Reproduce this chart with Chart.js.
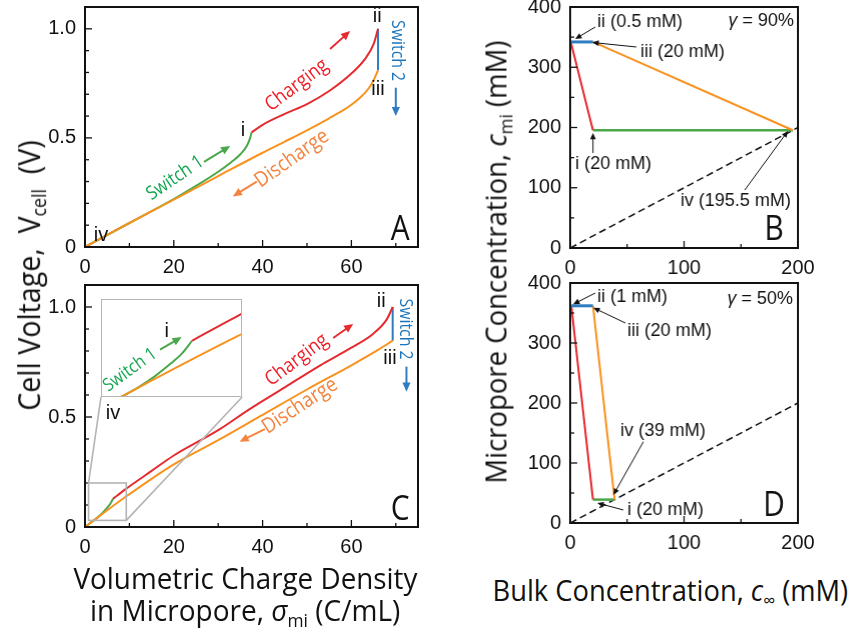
<!DOCTYPE html>
<html>
<head>
<meta charset="utf-8">
<script src="https://cdn.jsdelivr.net/npm/chart.js@4/dist/chart.umd.min.js"></script>
<style>
  body { margin: 0; background: #fff; }
  #wrap { position: relative; width: 850px; height: 634px; overflow: hidden; font-family: 'Open Sans', sans-serif; }
  canvas { position: absolute; }
  .t { position: absolute; white-space: nowrap; color: #111; font-size: 30px; line-height: 1; }
  .t sub { font-size: 0.62em; vertical-align: -0.3em; }
  .t i { font-style: italic; }
</style>
</head>
<body>
<div id="wrap">
  <canvas id="cA" width="410" height="280"></canvas>
  <canvas id="cC" width="410" height="282"></canvas>
  <canvas id="cB" width="300" height="281"></canvas>
  <canvas id="cD" width="300" height="280"></canvas>
  <canvas id="cIn" width="10" height="10"></canvas>

  <div class="t" data-x="30" data-y="275" data-len="270" data-rot="1" style="font-size:31px">Cell Voltage,&nbsp;&nbsp;V<sub>cell</sub>&nbsp;&nbsp;(V)</div>
  <div class="t" data-x="497" data-y="262" data-len="443" data-rot="1">Micropore Concentration, <i>c</i><sub>mi</sub> (mM)</div>
  <div class="t" data-x="245" data-y="578" data-len="344">Volumetric Charge Density</div>
  <div class="t" data-x="245" data-y="612" data-len="310">in Micropore, <i>σ</i><sub>mi</sub> (C/mL)</div>
  <div class="t" data-x="670" data-y="592" data-len="356">Bulk Concentration, <i>c</i><sub>∞</sub> (mM)</div>
</div>

<script>
// ---- data: panel A (gamma 90%), cell voltage vs charge density ----
const switch1A = [[0,0],[10,0.11],[20,0.22],[25,0.28],[30,0.345],[33,0.39],[35,0.425],[36.5,0.465],[37.2,0.5],[37.5,0.525]];
const chargeA = [[37.5,0.525],[40,0.56],[45,0.61],[50,0.655],[55,0.715],[60,0.795],[63,0.86],[65,0.93],[66,1.0]];
const switch2A = [[66,1.0],[66,0.81]];
const dischargeA = [[0,0],[10,0.11],[20,0.217],[30,0.325],[40,0.432],[45,0.483],[50,0.535],[55,0.59],[58,0.625],[60,0.652],[62,0.685],[64,0.73],[65,0.765],[66,0.81]];

// ---- panel C (gamma 50%) ----
const switch1C = [[0,0],[2,0.03],[3,0.046],[4,0.065],[5,0.088],[5.7,0.106],[6.3,0.128]];
const chargeC = [[6.3,0.128],[9,0.17],[15,0.255],[20,0.325],[30,0.44],[37,0.535],[45,0.635],[53,0.735],[60,0.815],[65,0.88],[68,0.945],[69.3,1.0]];
const switch2C = [[69.3,1.0],[69.3,0.847]];
const dischargeC = [[0,0],[9,0.135],[20,0.285],[30,0.395],[40,0.51],[50,0.625],[60,0.735],[66,0.805],[69.3,0.847]];

// ---- panel B: micropore vs bulk concentration (gamma 90%) ----
const chargeB = [[0.5,342],[20,195.5]];
const switch1B = [[20,195.5],[195.5,195.5]];
const switch2B = [[0.5,342],[20,342]];
const dischargeB = [[20,342],[195.5,195.5]];

// ---- panel D (gamma 50%) ----
const chargeD = [[1,362],[20,39]];
const switch1D = [[20,39],[39,39]];
const switch2D = [[1,362],[20,362]];
const dischargeD = [[20,362],[39,39]];

const equalLine = [[0,0],[200,200]];

// ---- ticks ----
const voltTicks = [0, 0.5, 1.0];
const chargeTicks = [0, 20, 40, 60];
const concTicks = [0, 100, 200, 300, 400];
const bulkTicks = [0, 100, 200];

// zoomed window shown in the inset of panel C, and where the inset sits
const zoomWin = { x0: 0.8, x1: 9.3, y0: 0.03, y1: 0.2 };
const insetWin = { x0: 3.6, x1: 35.4, y0: 0.591, y1: 1.036 };

const HUMAN = "'Open Sans',sans-serif";
const ARIAL = "'Liberation Sans',Arial,sans-serif";
const RED = '#e52b2f', ORANGE = '#f8921e', GREEN = '#4aa84a', BLUE = '#2f7cc0';
const RED_T = '#ee1c25', ORANGE_T = '#f4843f', GREEN_T = '#13a650', BLUE_T = '#1b75bc';

// annotation text / arrows (data coordinates of each panel)
const notesA = [
  { t: 'ii', x: 65.8, y: 1.055 }, { t: 'iii', x: 66.0, y: 0.72 },
  { t: 'Switch 2', x: 70.2, y: 0.9, c: BLUE_T, f: HUMAN, s: 18, r: 90 },
  { t: 'Charging', x: 47.7, y: 0.742, c: RED_T, f: HUMAN, s: 20, r: -37 },
  { t: 'i', x: 35.6, y: 0.532 },
  { t: 'Switch 1', x: 20.3, y: 0.316, c: GREEN_T, f: HUMAN, s: 19, r: -34 },
  { t: 'Discharge', x: 46.6, y: 0.405, c: ORANGE_T, f: HUMAN, s: 21, r: -35 },
  { t: 'iv', x: 3.6, y: 0.055 },
  { t: 'A', x: 71, y: 0.078, f: HUMAN, s: 34 }
];
const arrowsA = [[70.0,0.73,70.0,0.6,BLUE], [55.2,0.907,59.7,0.99,RED], [26.8,0.39,32.7,0.463,GREEN], [38.7,0.3,33.3,0.232,ORANGE_T]];

const notesC = [
  { t: 'ii', x: 66.7, y: 1.023 }, { t: 'iii', x: 68.7, y: 0.768 },
  { t: 'Switch 2', x: 72.1, y: 0.9, c: BLUE_T, f: HUMAN, s: 18, r: 90 },
  { t: 'Charging', x: 47.7, y: 0.759, c: RED_T, f: HUMAN, s: 20, r: -37 },
  { t: 'Discharge', x: 48.4, y: 0.55, c: ORANGE_T, f: HUMAN, s: 21, r: -33 },
  { t: 'iv', x: 6.3, y: 0.518 },
  { t: 'C', x: 71, y: 0.077, f: HUMAN, s: 34 }
];
const arrowsC = [[72.4,0.729,72.4,0.615,BLUE], [55.9,0.859,60.4,0.923,RED], [40.5,0.445,34.8,0.388,ORANGE_T]];

const notesIn = [
  { t: 'i', x: 4.76, y: 0.143 },
  { t: 'Switch 1', x: 2.55, y: 0.077, c: GREEN_T, f: HUMAN, s: 18, r: -36 }
];
const arrowsIn = [[4.36,0.112,5.66,0.134,GREEN]];

const notesB = [
  { t: 'ii (0.5 mM)', x: 23.8, y: 375, a: 'left', s: 18 },
  { t: 'iii (20 mM)', x: 61.7, y: 325.3, a: 'left', s: 18 },
  { t: 'i (20 mM)', x: 4.4, y: 139.4, a: 'left', s: 18 },
  { t: 'iv (195.5 mM)', x: 96.9, y: 78, a: 'left', s: 18 },
  { pre: 'γ', t: ' = 90%', x: 196.5, y: 376.8, a: 'right', s: 18 },
  { t: 'B', x: 178.9, y: 29.9, f: HUMAN, s: 34 }
];
const arrowsB = [[22,366.8,4.4,346.9], [58.1,333.6,19.4,341.1], [20,157.7,20,190.9], [153.3,96.3,191.2,194.2]];

const notesD = [
  { t: 'ii (1 mM)', x: 23.8, y: 376.7, a: 'left', s: 18 },
  { t: 'iii (20 mM)', x: 50.2, y: 320, a: 'left', s: 18 },
  { t: 'iv (39 mM)', x: 44.1, y: 153.3, a: 'left', s: 18 },
  { t: 'i (20 mM)', x: 50.2, y: 21.7, a: 'left', s: 18 },
  { pre: 'γ', t: ' = 50%', x: 195.6, y: 373, a: 'right', s: 18 },
  { t: 'D', x: 178.9, y: 28.3, f: HUMAN, s: 34 }
];
const arrowsD = [[22,383.3,2.6,364.5], [48.5,333.3,20.3,358.8], [64.3,135.5,37.9,46.7], [46.7,21.7,23.8,33.3]];

function pts(arr) { return arr.map(p => ({ x: p[0], y: p[1] })); }

function drawArrow(ctx, x1, y1, x2, y2, color, lw, head) {
  const ang = Math.atan2(y2 - y1, x2 - x1);
  ctx.strokeStyle = color; ctx.fillStyle = color; ctx.lineWidth = lw;
  ctx.beginPath();
  ctx.moveTo(x1, y1);
  ctx.lineTo(x2 - Math.cos(ang) * head * 0.8, y2 - Math.sin(ang) * head * 0.8);
  ctx.stroke();
  ctx.beginPath();
  ctx.moveTo(x2, y2);
  ctx.lineTo(x2 - head * Math.cos(ang - 0.42), y2 - head * Math.sin(ang - 0.42));
  ctx.lineTo(x2 - head * Math.cos(ang + 0.42), y2 - head * Math.sin(ang + 0.42));
  ctx.closePath();
  ctx.fill();
}

function drawNote(ctx, n, X, Y) {
  ctx.save();
  ctx.translate(X, Y);
  if (n.r) ctx.rotate(n.r * Math.PI / 180);
  const fam = n.f || ARIAL;
  if (fam === HUMAN) ctx.scale(0.88, 1);   // narrower, Myriad-like
  ctx.fillStyle = n.c || '#111';
  ctx.textBaseline = 'middle';
  const norm = (n.s || 20) + 'px ' + fam, ital = 'italic ' + norm;
  ctx.font = norm;
  const wMain = ctx.measureText(n.t).width;
  let wPre = 0;
  if (n.pre) { ctx.font = ital; wPre = ctx.measureText(n.pre).width; }
  const tot = wMain + wPre, al = n.a || 'center';
  let x0 = al === 'left' ? 0 : al === 'right' ? -tot : -tot / 2;
  ctx.textAlign = 'left';
  if (n.pre) { ctx.font = ital; ctx.fillText(n.pre, x0, 0); x0 += wPre; }
  ctx.font = norm;
  ctx.fillText(n.t, x0, 0);
  ctx.restore();
}

// frame, inward ticks, zoom box and annotations
const decor = {
  id: 'decor',
  beforeDraw(chart, args, o) {
    if (!o.white) return;
    const a = chart.chartArea, ctx = chart.ctx;
    ctx.save(); ctx.fillStyle = '#fff';
    ctx.fillRect(a.left, a.top, a.right - a.left, a.bottom - a.top);
    ctx.restore();
  },
  afterDatasetsDraw(chart, args, o) {
    const { ctx, chartArea: a, scales: { x, y } } = chart;
    const px = v => x.getPixelForValue(v), py = v => y.getPixelForValue(v);
    ctx.save();
    ctx.lineCap = 'butt';

    if (o.xMinor) {
      ctx.strokeStyle = '#111'; ctx.lineWidth = 1.3;
      const nx = Math.floor((x.max - x.min) / o.xMinor + 1e-9);
      for (let i = 0; i <= nx; i++) {
        const v = x.min + i * o.xMinor;
        const len = o.xMajor.some(m => Math.abs(m - v) < 1e-9) ? 7 : 4;
        ctx.beginPath(); ctx.moveTo(px(v), a.bottom); ctx.lineTo(px(v), a.bottom - len); ctx.stroke();
      }
      const ny = Math.floor((y.max - y.min) / o.yMinor + 1e-9);
      for (let i = 0; i <= ny; i++) {
        const v = y.min + i * o.yMinor;
        const len = o.yMajor.some(m => Math.abs(m - v) < 1e-9) ? 7 : 4;
        ctx.beginPath(); ctx.moveTo(a.left, py(v)); ctx.lineTo(a.left + len, py(v)); ctx.stroke();
      }
    }

    if (o.zoom) {
      const z = o.zoom, w = o.inset;
      ctx.strokeStyle = '#b4b4b4'; ctx.lineWidth = 1.6;
      ctx.strokeRect(px(z.x0), py(z.y1), px(z.x1) - px(z.x0), py(z.y0) - py(z.y1));
      ctx.beginPath();
      ctx.moveTo(px(z.x0), py(z.y1)); ctx.lineTo(px(w.x0), py(w.y0));
      ctx.moveTo(px(z.x1), py(z.y0)); ctx.lineTo(px(w.x1), py(w.y0));
      ctx.stroke();
    }

    ctx.strokeStyle = o.frame || '#111'; ctx.lineWidth = o.frameWidth || 2;
    ctx.strokeRect(a.left, a.top, a.right - a.left, a.bottom - a.top);

    (o.arrows || []).forEach(r => {
      const col = r[4] || '#111';
      const thin = !r[4];
      drawArrow(ctx, px(r[0]), py(r[1]), px(r[2]), py(r[3]), col, thin ? 1 : 2, thin ? 7 : 10);
    });

    (o.notes || []).forEach(n => drawNote(ctx, n, px(n.x), py(n.y)));
    ctx.restore();
  }
};

function line(data, color, width, extra) {
  return Object.assign({ data: pts(data), borderColor: color, borderWidth: width, showLine: true,
    pointRadius: 0, fill: false, tension: 0 }, extra || {});
}
const curve = { cubicInterpolationMode: 'monotone' };

function makePanel(id, datasets, sc, deco, yWidth) {
  const tickFont = { family: ARIAL, size: 20 };
  return new Chart(document.getElementById(id), {
    type: 'scatter',
    data: { datasets },
    options: {
      responsive: false, maintainAspectRatio: false, animation: false, devicePixelRatio: 1,
      layout: { padding: 0 },
      plugins: { legend: { display: false }, tooltip: { enabled: false }, decor: deco },
      scales: {
        x: {
          type: 'linear', min: sc.xmin, max: sc.xmax,
          grid: { display: false, drawTicks: false }, border: { display: false },
          afterBuildTicks: ax => { ax.ticks = sc.xt.map(v => ({ value: v })); },
          afterFit: ax => { ax.height = 33; },
          ticks: { font: tickFont, color: '#111', padding: 8, maxRotation: 0, callback: sc.xf }
        },
        y: {
          type: 'linear', min: sc.ymin, max: sc.ymax,
          grid: { display: false, drawTicks: false }, border: { display: false },
          afterBuildTicks: ax => { ax.ticks = sc.yt.map(v => ({ value: v })); },
          afterFit: ax => { ax.width = yWidth; },
          ticks: { font: tickFont, color: '#111', padding: 9, callback: sc.yf }
        }
      }
    },
    plugins: [decor]
  });
}

// move/resize a chart's canvas so that its plot area sits on the wanted page box
function place(chart, want) {
  for (let k = 0; k < 3; k++) {
    const a = chart.chartArea;
    const w = chart.width + (want.r - want.l) - (a.right - a.left);
    const h = chart.height + (want.b - want.t) - (a.bottom - a.top);
    if (Math.abs(w - chart.width) < 0.5 && Math.abs(h - chart.height) < 0.5) break;
    chart.resize(w, h);
  }
  const a = chart.chartArea;
  chart.canvas.style.left = (want.l - a.left) + 'px';
  chart.canvas.style.top = (want.t - a.top) + 'px';
  return { left: want.l - a.left, top: want.t - a.top };
}

const voltFmt = v => (v === 0 ? '0' : v.toFixed(1));
const intFmt = v => String(v);
const scVolt = { xmin: 0, xmax: 75, ymin: 0, ymax: 1.1, xt: chargeTicks, yt: voltTicks, xf: intFmt, yf: voltFmt };
const scConc = { xmin: 0, xmax: 200, ymin: 0, ymax: 400, xt: bulkTicks, yt: concTicks, xf: intFmt, yf: intFmt };

const chartA = makePanel('cA', [
  line(dischargeA, ORANGE, 2, curve),
  line(chargeA, RED, 2, curve),
  line(switch2A, BLUE, 2),
  line(switch1A, GREEN, 2, curve)
], scVolt, { xMinor: 10, yMinor: 0.1, xMajor: chargeTicks, yMajor: voltTicks, notes: notesA, arrows: arrowsA }, 65);
place(chartA, { l: 85, t: 7, r: 418, b: 247 });

const chartC = makePanel('cC', [
  line(dischargeC, ORANGE, 2, curve),
  line(chargeC, RED, 2, curve),
  line(switch2C, BLUE, 2),
  line(switch1C, GREEN, 2, curve)
], scVolt, { xMinor: 10, yMinor: 0.1, xMajor: chargeTicks, yMajor: voltTicks, notes: notesC, arrows: arrowsC,
  zoom: zoomWin, inset: insetWin }, 65);
const offC = place(chartC, { l: 85, t: 285, r: 418, b: 527 });

const chartB = makePanel('cB', [
  line(switch2B, BLUE, 3),
  line(chargeB, RED, 2),
  line(dischargeB, ORANGE, 2),
  line(switch1B, GREEN, 2.5),
  line(equalLine, '#111', 1.5, { borderDash: [7, 4] })
], scConc, { xMinor: 50, yMinor: 50, xMajor: bulkTicks, yMajor: concTicks, notes: notesB, arrows: arrowsB }, 55);
place(chartB, { l: 570, t: 7, r: 797, b: 248 });

const chartD = makePanel('cD', [
  line(switch2D, BLUE, 3),
  line(chargeD, RED, 2),
  line(dischargeD, ORANGE, 2),
  line(switch1D, GREEN, 2.5),
  line(equalLine, '#111', 1.5, { borderDash: [7, 4] })
], scConc, { xMinor: 50, yMinor: 50, xMajor: bulkTicks, yMajor: concTicks, notes: notesD, arrows: arrowsD }, 55);
place(chartD, { l: 570, t: 283, r: 797, b: 523 });

// inset of panel C: same series, zoomed, placed through panel C's scales
const cx = chartC.scales.x, cy = chartC.scales.y;
const inCanvas = document.getElementById('cIn');
const inL = Math.round(cx.getPixelForValue(insetWin.x0)), inR = Math.round(cx.getPixelForValue(insetWin.x1));
const inT = Math.round(cy.getPixelForValue(insetWin.y1)), inB = Math.round(cy.getPixelForValue(insetWin.y0));
inCanvas.width = inR - inL; inCanvas.height = inB - inT;
inCanvas.style.left = (offC.left + inL) + 'px'; inCanvas.style.top = (offC.top + inT) + 'px';
new Chart(inCanvas, {
  type: 'scatter',
  data: { datasets: [
    line(dischargeC, ORANGE, 2, curve),
    line(chargeC, RED, 2, curve),
    line(switch1C, GREEN, 2, curve)
  ] },
  options: {
    responsive: false, animation: false, devicePixelRatio: 1,
    layout: { padding: 0 },
    plugins: { legend: { display: false }, tooltip: { enabled: false },
      decor: { white: true, frame: '#b4b4b4', frameWidth: 2, notes: notesIn, arrows: arrowsIn } },
    scales: {
      x: { type: 'linear', display: false, min: zoomWin.x0, max: zoomWin.x1 },
      y: { type: 'linear', display: false, min: zoomWin.y0, max: zoomWin.y1 }
    }
  },
  plugins: [decor]
});

// axis titles: centre them and squeeze to the reference length
document.querySelectorAll('.t').forEach(el => {
  const s = (+el.dataset.len) / el.offsetWidth;
  el.style.left = (el.dataset.x - el.offsetWidth / 2) + 'px';
  el.style.top = (el.dataset.y - el.offsetHeight / 2) + 'px';
  el.style.transform = (el.dataset.rot ? 'rotate(-90deg) ' : '') + 'scaleX(' + s.toFixed(3) + ')';
});
</script>
</body>
</html>
